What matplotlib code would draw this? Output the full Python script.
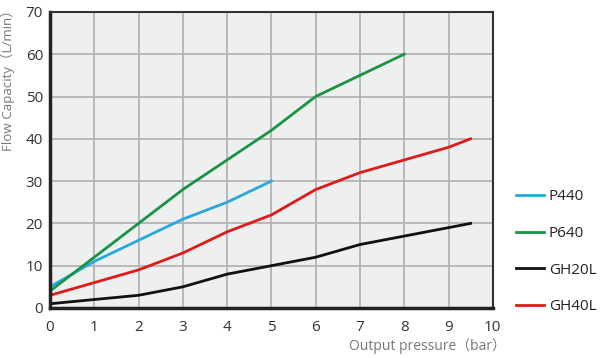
import matplotlib
matplotlib.use('Agg')
import matplotlib.pyplot as plt

plt.rcParams['font.family'] = ['Open Sans', 'Noto Sans CJK SC', 'DejaVu Sans']

# Flow capacity (L/min) vs output pressure (bar)
p440_x = [0, 1, 2, 3, 4, 5]
p440_y = [5, 11, 16, 21, 25, 30]

p640_x = [0, 1, 2, 3, 4, 5, 6, 7, 8]
p640_y = [4, 12, 20, 28, 35, 42, 50, 55, 60]

gh20l_x = [0, 1, 2, 3, 4, 5, 6, 7, 8, 9, 9.5]
gh20l_y = [1, 2, 3, 5, 8, 10, 12, 15, 17, 19, 20]

gh40l_x = [0, 1, 2, 3, 4, 5, 6, 7, 8, 9, 9.5]
gh40l_y = [3, 6, 9, 13, 18, 22, 28, 32, 35, 38, 40]

x_ticks = list(range(0, 11))
y_ticks = list(range(0, 71, 10))

fig = plt.figure(figsize=(6, 3.58), dpi=100)
ax = fig.add_axes([0.0833, 0.1397, 0.738, 0.827])
ax.set_facecolor('#eeefef')

ax.plot(p440_x, p440_y, color='#29a8df', lw=2, label='P440')
ax.plot(p640_x, p640_y, color='#1a9444', lw=2, label='P640')
ax.plot(gh20l_x, gh20l_y, color='#111111', lw=2, label='GH20L')
ax.plot(gh40l_x, gh40l_y, color='#e01a1a', lw=2, label='GH40L')

ax.set_xlim(0, 10)
ax.set_ylim(0, 70)
ax.set_xticks(x_ticks)
ax.set_yticks(y_ticks)
ax.grid(True, color='#b4b4b4', lw=1.3)
ax.set_axisbelow(True)
ax.tick_params(length=0, labelsize=11, colors='#333333')
ax.tick_params(axis='x', pad=9)
ax.tick_params(axis='y', pad=5)

for side in ['left', 'bottom']:
    ax.spines[side].set_linewidth(2.5)
    ax.spines[side].set_color('#222222')
for side in ['top', 'right']:
    ax.spines[side].set_linewidth(1.5)
    ax.spines[side].set_color('#333333')

ax.set_xlabel('Output pressure（bar）', fontsize=10, color='#777777')
ax.xaxis.set_label_coords(0.852, -0.128)
ax.yaxis.label.set_va('center')
ax.xaxis.label.set_va('center')
ax.set_ylabel('Flow Capacity（L/min）', fontsize=9.6, color='#777777')
ax.yaxis.set_label_coords(-0.095, 0.78)

fig.legend(loc='upper left', bbox_to_anchor=(0.837, 0.51), frameon=False,
           fontsize=11, handlelength=1.83, labelspacing=1.42, handletextpad=0.33,
           labelcolor='#222222')

fig.savefig('out.png', dpi=100)
